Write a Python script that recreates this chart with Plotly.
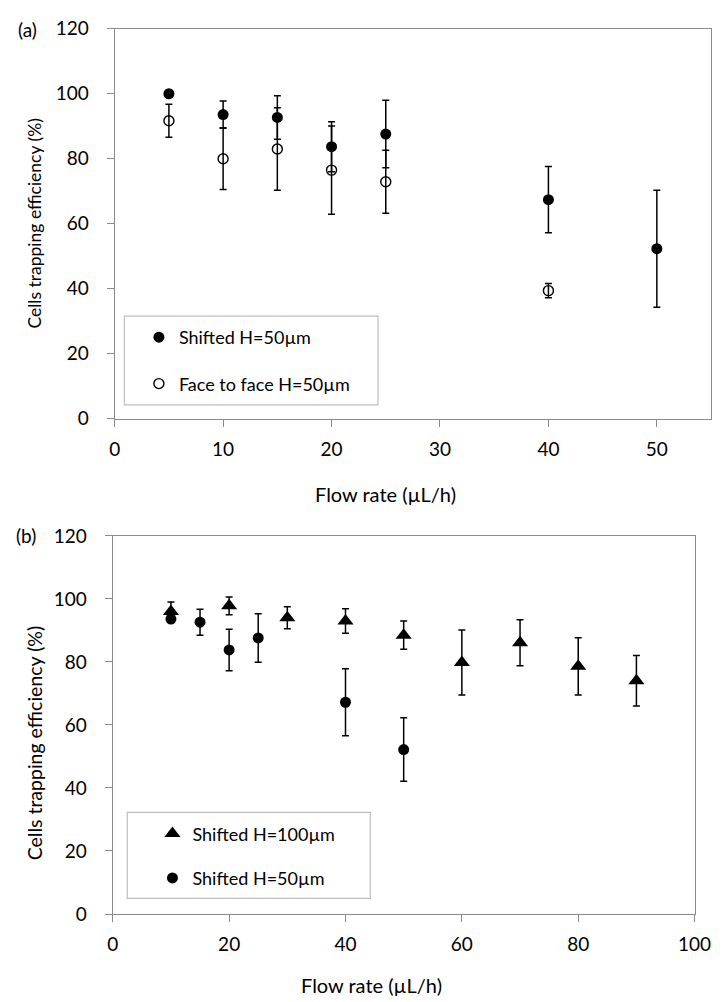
import plotly.graph_objects as go

W, H = 722, 1002

# ---------------- data: panel (a) ----------------
a_shift_x = [5, 10, 15, 20, 25, 40, 50]
a_shift_y = [100, 93.6, 92.7, 83.7, 87.6, 67.4, 52.3]
a_shift_err = [0, 4.2, 6.7, 7.7, 10.4, 10.2, 18.0]

a_face_x = [5, 10, 15, 20, 25, 40]
a_face_y = [91.7, 80.0, 83.0, 76.5, 72.9, 39.4]
a_face_err = [5.1, 9.5, 12.7, 13.6, 9.7, 2.2]

# ---------------- data: panel (b) ----------------
b_h100_x = [10, 20, 30, 40, 50, 60, 70, 80, 90]
b_h100_y = [96.0, 97.8, 94.0, 93.0, 88.5, 79.8, 86.1, 78.6, 74.0]
b_h100_err = [3.0, 2.8, 3.5, 3.9, 4.5, 10.3, 7.3, 9.1, 8.0]

b_h50_x = [10, 15, 20, 25, 40, 50]
b_h50_y = [93.6, 92.6, 83.8, 87.6, 67.2, 52.2]
b_h50_err = [0, 4.1, 6.6, 7.7, 10.6, 10.1]

y_ticks = [0, 20, 40, 60, 80, 100, 120]
a_x_ticks = [0, 10, 20, 30, 40, 50]
b_x_ticks = [0, 20, 40, 60, 80, 100]

FONT = "Lato"
AXC = "#8a8a8a"


def fx(px):
    return px / W


def fy(py):
    return 1 - py / H


def err(arr):
    return dict(type="data", array=arr, symmetric=True, color="black",
                thickness=1.5, width=3.5)


fig = go.Figure()

fig.add_trace(go.Scatter(
    x=a_shift_x, y=a_shift_y, mode="markers", name="Shifted H=50µm",
    marker=dict(symbol="circle", size=11, color="black"),
    error_y=err(a_shift_err), xaxis="x", yaxis="y",
    legend="legend", legendgroup="a1"))
fig.add_trace(go.Scatter(
    x=a_face_x, y=a_face_y, mode="markers", name="Face to face H=50µm",
    marker=dict(symbol="circle-open", size=10, color="black",
                line=dict(width=1.4, color="black")),
    error_y=err(a_face_err), xaxis="x", yaxis="y",
    legend="legend", legendgroup="a2"))

fig.add_trace(go.Scatter(
    x=b_h50_x, y=b_h50_y, mode="markers", name="Shifted H=50µm",
    marker=dict(symbol="circle", size=11, color="black"),
    error_y=err(b_h50_err), xaxis="x2", yaxis="y2",
    legend="legend2", legendgroup="b2", legendrank=2))
fig.add_trace(go.Scatter(
    x=b_h100_x, y=b_h100_y, mode="markers", name="Shifted H=100µm",
    marker=dict(symbol="triangle-up", size=14, color="black"),
    error_y=err(b_h100_err), xaxis="x2", yaxis="y2",
    legend="legend2", legendgroup="b1", legendrank=1))

axis_common = dict(
    showline=True, linecolor=AXC, linewidth=1.3, mirror=True,
    ticks="outside", tickcolor=AXC, ticklen=7, tickwidth=1.2,
    showgrid=False, zeroline=False,
    tickfont=dict(family=FONT, size=19, color="black"),
)


def ann(text, x, y, size, angle=0):
    return dict(text=text, x=fx(x), y=fy(y), xref="paper", yref="paper",
                xanchor="center", yanchor="middle", showarrow=False,
                textangle=angle, font=dict(family=FONT, size=size,
                                           color="black"))


fig.update_layout(
    width=W, height=H, autosize=False,
    margin=dict(l=0, r=0, t=0, b=0),
    paper_bgcolor="white", plot_bgcolor="white",
    showlegend=True,
    xaxis=dict(domain=[fx(104), fx(720)], range=[0, 55], tickvals=a_x_ticks,
               anchor="y", ticklabelstandoff=6, **axis_common),
    yaxis=dict(domain=[fy(408), fy(9)], range=[0, 120], tickvals=y_ticks,
               anchor="x", ticklabelstandoff=14, **axis_common),
    xaxis2=dict(domain=[fx(102), fx(703)], range=[0, 100], tickvals=b_x_ticks,
                anchor="y2", ticklabelstandoff=6, **axis_common),
    yaxis2=dict(domain=[fy(915), fy(528)], range=[0, 120], tickvals=y_ticks,
                anchor="x2", ticklabelstandoff=14, **axis_common),
    legend=dict(x=fx(129), y=fy(306), xanchor="left", yanchor="top",
                bgcolor="rgba(0,0,0,0)", borderwidth=0,
                font=dict(family=FONT, size=18, color="black"),
                traceorder="grouped", tracegroupgap=20, itemwidth=30),
    legend2=dict(x=fx(143), y=fy(814), xanchor="left", yanchor="top",
                 bgcolor="rgba(0,0,0,0)", borderwidth=0,
                 font=dict(family=FONT, size=18, color="black"),
                 traceorder="grouped", tracegroupgap=18, itemwidth=30),
    shapes=[
        dict(type="rect", xref="paper", yref="paper",
             x0=fx(114), x1=fx(376), y0=fy(394), y1=fy(303),
             line=dict(color="#bdbdbd", width=1.2), fillcolor="rgba(0,0,0,0)"),
        dict(type="rect", xref="paper", yref="paper",
             x0=fx(117), x1=fx(368), y0=fy(899), y1=fy(811),
             line=dict(color="#bdbdbd", width=1.2), fillcolor="rgba(0,0,0,0)"),
    ],
    annotations=[
        ann("(a)", 14, 10, 19),
        ann("(b)", 12, 528, 19),
        ann("Flow rate (µL/h)", 384, 485, 20),
        ann("Flow rate (µL/h)", 369, 988, 20),
        ann("Cells trapping efficiency (%)", 21, 208, 17.5, -90),
        ann("Cells trapping efficiency (%)", 21, 740, 19.5, -90),
    ],
)

fig.write_html("out.html")
